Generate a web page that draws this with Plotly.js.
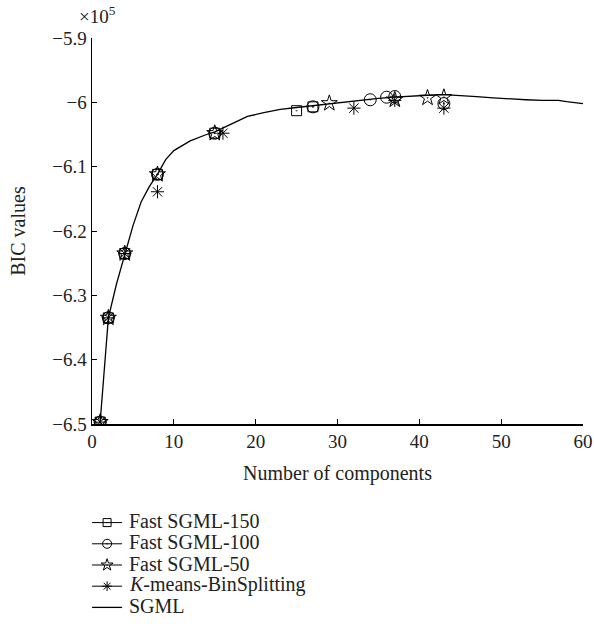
<!DOCTYPE html>
<html>
<head>
<meta charset="utf-8">
<script src="https://cdn.plot.ly/plotly-3.0.1.min.js"></script>
<style>html,body{margin:0;padding:0;background:#fff}#chart{width:594px;height:640px}</style>
</head>
<body>
<div id="chart"></div>
<script>
// SGML curve (BIC ×10^5)
const sgmlX = [1,2,3,4,5,6,7,8,9,10,12,14,15,17,19,21,23,25,27,29,31,33,35,37,39,41,43,45,47,49,51,53,55,57,58,59,60];
const sgmlY = [-6.497,-6.335,-6.282,-6.235,-6.192,-6.155,-6.131,-6.112,-6.089,-6.075,-6.06,-6.05,-6.046,-6.034,-6.022,-6.016,-6.011,-6.008,-6.005,-6.002,-5.999,-5.996,-5.994,-5.992,-5.990,-5.989,-5.988,-5.989,-5.991,-5.993,-5.995,-5.996,-5.997,-5.997,-5.999,-6.001,-6.002];

// Fast SGML-150
const f150X = [1,2,4,8,15,25,27];
const f150Y = [-6.497,-6.335,-6.235,-6.112,-6.048,-6.013,-6.007];
// Fast SGML-100
const f100X = [1,2,4,8,15,27,34,36,37,43];
const f100Y = [-6.497,-6.335,-6.235,-6.112,-6.048,-6.007,-5.996,-5.992,-5.991,-6.002];
// Fast SGML-50
const f50X = [1,2,4,8,15,29,37,41,43];
const f50Y = [-6.497,-6.335,-6.235,-6.112,-6.048,-6.0015,-5.996,-5.993,-5.992];
// K-means-BinSplitting
const kmX = [1,2,4,8,16,32,37,43];
const kmY = [-6.497,-6.335,-6.235,-6.139,-6.048,-6.009,-5.997,-6.009];

const yTickVals = [-6.5,-6.4,-6.3,-6.2,-6.1,-6.0,-5.9];
const yTickText = ["\u22126.5","\u22126.4","\u22126.3","\u22126.2","\u22126.1","\u22126","\u22125.9"];
const xTickVals = [0,10,20,30,40,50,60];

const names = ["Fast SGML-150","Fast SGML-100","Fast SGML-50","<i>K</i>-means-BinSplitting","SGML"];

const FONT = "Liberation Serif, DejaVu Serif, serif";
const TXT = '#222';
const mk = (sym, size) => ({symbol: sym, size: size, color: '#000', line: {color: '#000', width: 1}});

const traces = [
  {x: sgmlX, y: sgmlY, mode: 'lines', line: {color: '#000', width: 1.3}, showlegend: false, hoverinfo: 'skip'},
  {x: f150X, y: f150Y, mode: 'markers', marker: mk('square-open-dot', 10), showlegend: false},
  {x: f100X, y: f100Y, mode: 'markers', marker: mk('circle-open-dot', 12), showlegend: false},
  {x: f50X, y: f50Y, mode: 'markers', marker: mk('star-open-dot', 12), showlegend: false},
  {x: kmX, y: kmY, mode: 'markers', marker: mk('asterisk-open', 11), showlegend: false},
  // legend glyphs (labels drawn as annotations below so they can be larger than the row spacing allows)
  {x: [null], y: [null], mode: 'lines+markers', name: ' ', line: {color: '#000', width: 1}, marker: mk('square-open-dot', 8)},
  {x: [null], y: [null], mode: 'lines+markers', name: ' ', line: {color: '#000', width: 1}, marker: mk('circle-open-dot', 9)},
  {x: [null], y: [null], mode: 'lines+markers', name: ' ', line: {color: '#000', width: 1}, marker: mk('star-open-dot', 9)},
  {x: [null], y: [null], mode: 'lines+markers', name: ' ', line: {color: '#000', width: 1}, marker: mk('asterisk-open', 8)},
  {x: [null], y: [null], mode: 'lines', name: ' ', line: {color: '#000', width: 1.3}}
];

const plotH = 640 - 38 - 216;
const legendRow0 = 521, legendStep = 21.3;
const legendAnn = names.map((n, i) => ({
  text: n, xref: 'paper', yref: 'paper', x: (127 - 92) / 491, y: (424 - (legendRow0 + i * legendStep)) / plotH,
  xanchor: 'left', yanchor: 'middle', showarrow: false, font: {family: FONT, size: 20, color: TXT}
}));

const layout = {
  width: 594, height: 640,
  margin: {l: 92, r: 11, t: 38, b: 216},
  paper_bgcolor: '#fff', plot_bgcolor: '#fff',
  font: {family: FONT, color: TXT, size: 19},
  showlegend: true,
  legend: {x: -0.01, y: -0.215, xanchor: 'left', yanchor: 'top', font: {family: FONT, size: 14, color: TXT},
           itemwidth: 30, tracegroupgap: 0, bgcolor: 'rgba(0,0,0,0)'},
  xaxis: {range: [0, 60], tickvals: xTickVals, ticks: 'inside', ticklen: 5, tickcolor: '#000',
          showline: true, linecolor: '#000', linewidth: 1.5, showgrid: false, zeroline: false, mirror: false,
          tickfont: {family: FONT, size: 19, color: TXT},
          title: {text: 'Number of components', font: {family: FONT, size: 20, color: TXT}, standoff: 14}},
  yaxis: {range: [-6.5, -5.9], tickvals: yTickVals, ticktext: yTickText, ticks: 'inside', ticklen: 5, tickcolor: '#000',
          showline: true, linecolor: '#000', linewidth: 1.5, showgrid: false, zeroline: false, mirror: false,
          tickfont: {family: FONT, size: 19, color: TXT},
          title: {text: 'BIC values', font: {family: FONT, size: 20, color: TXT}, standoff: 21}},
  annotations: [{text: '\u00d710<sup>5</sup>', xref: 'paper', yref: 'paper', x: -0.03, y: 1.06,
                 xanchor: 'left', yanchor: 'middle', showarrow: false, font: {family: FONT, size: 19, color: TXT}}]
                 .concat(legendAnn)
};

Plotly.newPlot('chart', traces, layout, {staticPlot: true, displayModeBar: false});
</script>
</body>
</html>
